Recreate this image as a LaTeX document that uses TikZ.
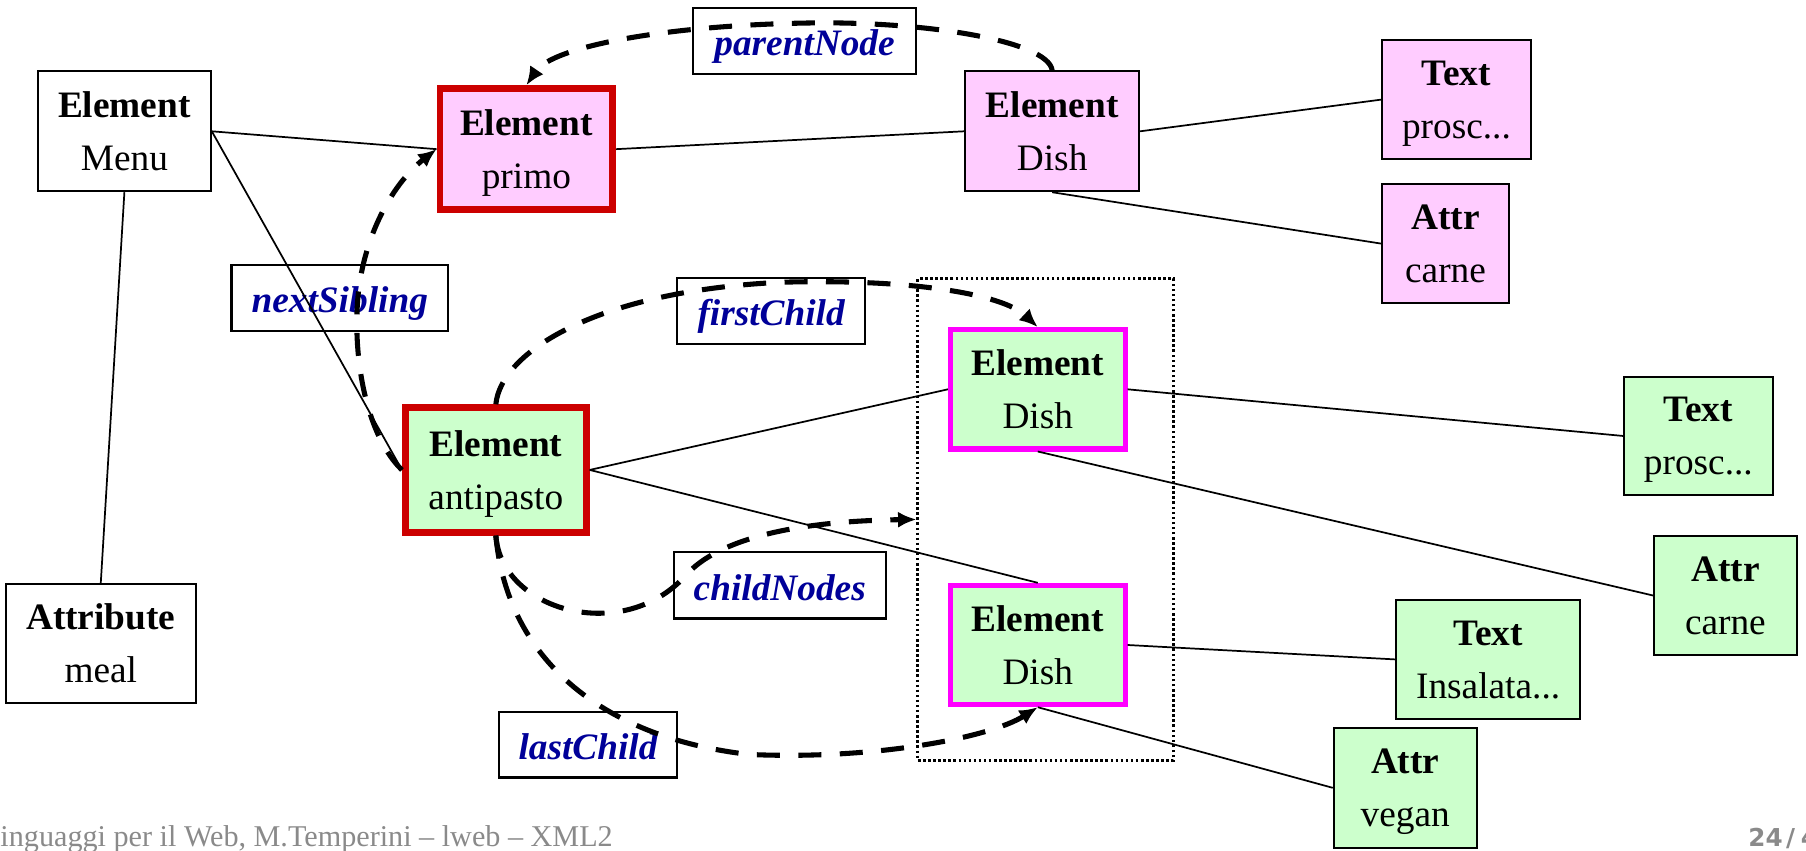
\documentclass[tikz,border=0pt]{standalone}
\usepackage{fontspec}
\setmainfont{Liberation Serif}
\newfontfamily\pagenofont{DejaVu Sans}
\usetikzlibrary{arrows.meta}
\definecolor{pinkfill}{HTML}{FFCCFF}
\definecolor{greenfill}{HTML}{CCFFCC}
\definecolor{redborder}{HTML}{CC0000}
\definecolor{magborder}{HTML}{FF00FF}
\definecolor{labelblue}{HTML}{000099}
\definecolor{footgray}{HTML}{8A8A8A}
\tikzset{
  dom/.style={draw=black, line width=0.9pt, inner sep=0pt, align=center,
    text depth=0pt, font=\fontsize{16.2}{23}\selectfont},
  pinkbox/.style={dom, fill=pinkfill},
  greenbox/.style={dom, fill=greenfill},
  redsel/.style={draw=redborder, line width=3pt},
  magsel/.style={draw=magborder, line width=2.2pt},
  lbl/.style={draw=black, fill=white, line width=0.9pt, inner sep=0pt,
    text height=13pt, text depth=0pt,
    font=\fontsize{16.2}{20}\selectfont\bfseries\itshape, text=labelblue},
  tree/.style={draw=black, line width=0.75pt},
  ptr/.style={draw=black, line width=2.2pt, dash pattern=on 10pt off 8pt,
    -{Latex[length=8pt,width=7pt]}},
  grpbox/.style={draw=black, line width=1.3pt, dash pattern=on 1.1pt off 1.1pt,
    inner sep=0pt}
}
\begin{document}
\begin{tikzpicture}[x=0.5pt,y=-0.5pt]
\useasboundingbox (0,0) rectangle (1568,738);
% group box
\node[grpbox, minimum width=111pt, minimum height=209pt] (grp) at (908,451) {};
% label boxes
\node[lbl, minimum width=96.5pt, minimum height=28.5pt] (lpar) at (698.5,35.5) {parentNode};
\node[lbl, minimum width=94pt, minimum height=28.5pt] (lsib) at (295,258.5) {nextSibling};
\node[lbl, minimum width=81.5pt, minimum height=29pt] (lfc) at (669.5,270) {firstChild};
\node[lbl, minimum width=92pt, minimum height=29pt] (lcn) at (677,508) {childNodes};
\node[lbl, minimum width=77.5pt, minimum height=28.5pt] (llc) at (510.5,646.5) {lastChild};
% tree nodes
\node[dom, minimum width=75pt, minimum height=52pt] (menu) at (108,114) {\textbf{Element}\\Menu};
\node[dom, minimum width=82.5pt, minimum height=51.5pt] (meal) at (87.5,558.5) {\textbf{Attribute}\\meal};
\node[pinkbox, redsel, minimum width=75pt, minimum height=52.5pt] (primo) at (457,129.5) {\textbf{Element}\\primo};
\node[pinkbox, minimum width=75.5pt, minimum height=52pt] (dish1) at (913.5,114) {\textbf{Element}\\Dish};
\node[pinkbox, minimum width=64.5pt, minimum height=51.5pt] (text1) at (1264.5,86.5) {\textbf{Text}\\prosc...};
\node[pinkbox, minimum width=55pt, minimum height=51.5pt] (attr1) at (1255,211.5) {\textbf{Attr}\\carne};
\node[greenbox, redsel, minimum width=78.5pt, minimum height=54pt] (anti) at (430.5,408) {\textbf{Element}\\antipasto};
\node[greenbox, magsel, minimum width=75.8pt, minimum height=51.8pt] (dish2) at (901,338) {\textbf{Element}\\Dish};
\node[greenbox, magsel, minimum width=75.8pt, minimum height=51.8pt] (dish3) at (901,560) {\textbf{Element}\\Dish};
\node[greenbox, minimum width=64.5pt, minimum height=51.5pt] (text2) at (1474.5,378.5) {\textbf{Text}\\prosc...};
\node[greenbox, minimum width=62pt, minimum height=52pt] (attr2) at (1498,517) {\textbf{Attr}\\carne};
\node[greenbox, minimum width=80pt, minimum height=51.5pt] (text3) at (1292,572.5) {\textbf{Text}\\Insalata...};
\node[greenbox, minimum width=62pt, minimum height=52pt] (attr3) at (1220,684) {\textbf{Attr}\\vegan};
% tree edges
\draw[tree] (menu.east) -- (primo.west);
\draw[tree] (menu.east) -- (anti.west);
\draw[tree] (menu.south) -- (meal.north);
\draw[tree] (primo.east) -- (dish1.west);
\draw[tree] (dish1.east) -- (text1.west);
\draw[tree] (dish1.south) -- (attr1.west);
\draw[tree] (anti.east) -- (dish2.west);
\draw[tree] (anti.east) -- (dish3.north);
\draw[tree] (dish2.east) -- (text2.west);
\draw[tree] (dish2.south) -- (attr2.west);
\draw[tree] (dish3.east) -- (text3.west);
\draw[tree] (dish3.south) -- (attr3.west);
% DOM pointers
\draw[ptr] (dish1.north) .. controls (910,35) and (800,18) .. (700,20)
  .. controls (580,22) and (480,40) .. (primo.north);
\draw[ptr] (anti.west) .. controls (320,380) and (308,320) .. (310,270)
  .. controls (312,210) and (340,160) .. (primo.west);
\draw[ptr] (anti.north) .. controls (435,305) and (520,252) .. (680,245)
  .. controls (790,242) and (870,255) .. (dish2.north);
\draw[ptr] (anti.south) .. controls (435,530) and (540,560) .. (595,500)
  .. controls (630,460) and (720,452) .. (grp.west);
\draw[ptr] (anti.south) .. controls (440,570) and (520,640) .. (650,655)
  .. controls (760,660) and (860,640) .. (dish3.south);
% footer
\node[anchor=base west, inner sep=0pt, text=footgray, font=\fontsize{13.1}{15}\selectfont] (foot) at (-16,735) {Linguaggi per il Web, M.Temperini -- lweb -- XML2};
\node[anchor=base west, inner sep=0pt, text=footgray, font=\pagenofont\bfseries\fontsize{10.7}{12}\selectfont] (pg) at (1517.6,735) {24\kern1.5pt/\kern2.5pt44};
\end{tikzpicture}
\end{document}
